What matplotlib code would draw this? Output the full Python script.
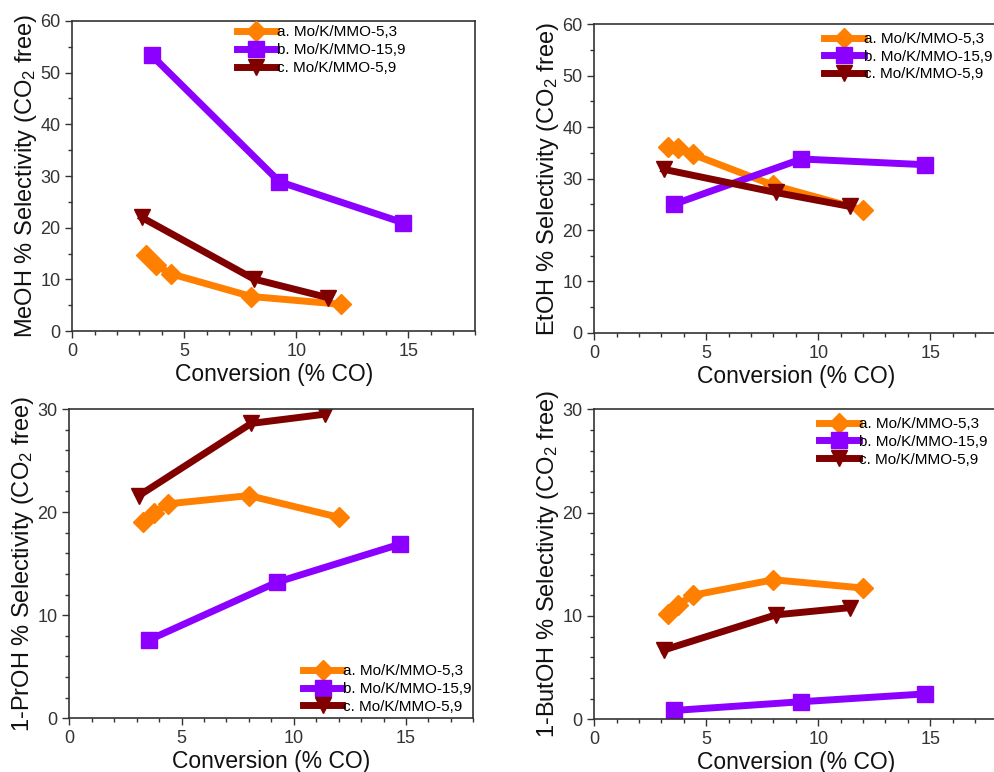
import matplotlib
matplotlib.use("Agg")
import matplotlib.pyplot as plt
from matplotlib.ticker import MultipleLocator

plt.rcParams['font.family'] = ['Liberation Sans', 'DejaVu Sans']
plt.rcParams['mathtext.default'] = 'regular'

labels = ["a. Mo/K/MMO-5,3", "b. Mo/K/MMO-15,9", "c. Mo/K/MMO-5,9"]
colors = ["#FF8000", "#8C00FF", "#800000"]
markers = ["D", "s", "v"]

# Conversion (% CO)
x_a = [3.3, 3.75, 4.4, 8.0, 12.0]
x_b = [3.55, 9.25, 14.75]
x_c = [3.1, 8.1, 11.4]

# MeOH selectivity
meoh_a = [14.7, 12.7, 11.1, 6.7, 5.2]
meoh_b = [53.3, 28.9, 21.0]
meoh_c = [22.0, 10.1, 6.5]

# EtOH selectivity
etoh_a = [36.2, 36.0, 34.7, 28.7, 23.9]
etoh_b = [25.0, 33.8, 32.7]
etoh_c = [31.8, 27.3, 24.6]

# 1-PrOH selectivity
proh_a = [19.0, 19.9, 20.8, 21.6, 19.5]
proh_b = [7.6, 13.2, 16.9]
proh_c = [21.6, 28.6, 29.5]

# 1-ButOH selectivity
buoh_a = [10.2, 11.1, 12.0, 13.5, 12.7]
buoh_b = [0.85, 1.7, 2.45]
buoh_c = [6.7, 10.1, 10.8]

panels = [
    dict(pos=[0.0727, 0.571, 0.405, 0.402], ys=(meoh_a, meoh_b, meoh_c),
         ylabel="MeOH % Selectivity (CO$_2$ free)", ylim=60, ymaj=10, ymin=5,
         leg=dict(loc="upper left", bbox_to_anchor=(0.40, 0.995))),
    dict(pos=[0.5973, 0.5687, 0.405, 0.400], ys=(etoh_a, etoh_b, etoh_c),
         ylabel="EtOH % Selectivity (CO$_2$ free)", ylim=60, ymaj=10, ymin=5,
         leg=dict(loc="upper left", bbox_to_anchor=(0.562, 0.985))),
    dict(pos=[0.0697, 0.0696, 0.406, 0.4006], ys=(proh_a, proh_b, proh_c),
         ylabel="1-PrOH % Selectivity (CO$_2$ free)", ylim=30, ymaj=10, ymin=2,
         leg=dict(loc="lower left", bbox_to_anchor=(0.57, 0.005))),
    dict(pos=[0.5973, 0.0683, 0.405, 0.4016], ys=(buoh_a, buoh_b, buoh_c),
         ylabel="1-ButOH % Selectivity (CO$_2$ free)", ylim=30, ymaj=10, ymin=2,
         leg=dict(loc="upper left", bbox_to_anchor=(0.55, 0.985))),
]

fig = plt.figure(figsize=(9.95, 7.72), dpi=100)
xs = (x_a, x_b, x_c)
for p in panels:
    ax = fig.add_axes(p["pos"])
    for x, y, c, m, lab in zip(xs, p["ys"], colors, markers, labels):
        ax.plot(x, y, color=c, marker=m, markersize=11 if m != "D" else 10,
                linewidth=5, label=lab, solid_joinstyle="round")
    ax.set_xlim(0, 18)
    ax.set_ylim(0, p["ylim"])
    ax.xaxis.set_major_locator(MultipleLocator(5))
    ax.xaxis.set_minor_locator(MultipleLocator(1))
    ax.yaxis.set_major_locator(MultipleLocator(p["ymaj"]))
    ax.yaxis.set_minor_locator(MultipleLocator(p["ymin"]))
    ax.tick_params(which="both", direction="out", top=False, right=False,
                   labelsize=13, colors="#333333")
    ax.tick_params(which="major", length=5, width=1)
    ax.tick_params(which="minor", length=3, width=1)
    for s in ax.spines.values():
        s.set_color("#333333")
        s.set_linewidth(1.2)
    ax.set_xlabel("Conversion (% CO)", fontsize=16.5, labelpad=2, color="#111111")
    ax.set_ylabel(p["ylabel"], fontsize=17, labelpad=1, color="#111111")
    ax.legend(frameon=False, fontsize=11, handlelength=2.6, handletextpad=0.05,
              labelspacing=0.25, borderpad=0.2, borderaxespad=0, **p["leg"])

fig.savefig("out.png", dpi=100)
